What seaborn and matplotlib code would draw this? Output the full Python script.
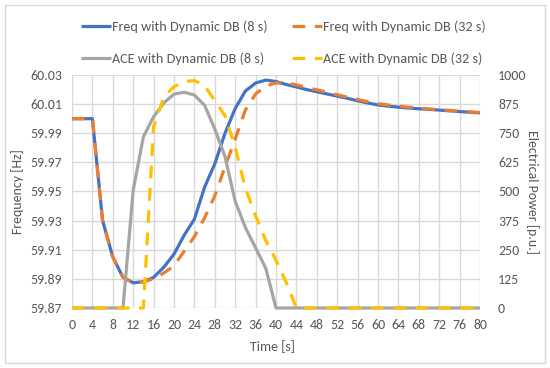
import matplotlib
matplotlib.use("Agg")
import matplotlib.pyplot as plt
import seaborn as sns
import numpy as np
import pandas as pd
from matplotlib import font_manager
from matplotlib.patches import Rectangle

# ---------------- data ----------------
time_s = list(range(0, 82, 2))

freq_8s = [60.000, 60.000, 60.000, 59.930, 59.905, 59.891, 59.8873, 59.888, 59.891, 59.898,
           59.907, 59.920, 59.931, 59.953, 59.969, 59.990, 60.007, 60.019, 60.0245, 60.0265,
           60.0255, 60.0235, 60.0218, 60.0200, 60.0185, 60.0170, 60.0155, 60.0140, 60.0123, 60.0108,
           60.0094, 60.0086, 60.0079, 60.0073, 60.0068, 60.0064, 60.0059, 60.0054, 60.0049, 60.0044,
           60.0040]

freq_32s = [60.000, 60.000, 60.000, 59.930, 59.905, 59.891, 59.8875, 59.888, 59.890, 59.894,
            59.899, 59.909, 59.919, 59.932, 59.947, 59.967, 59.986, 60.006, 60.017, 60.0225,
            60.0245, 60.0245, 60.0232, 60.0215, 60.0198, 60.0182, 60.0165, 60.0148, 60.0132, 60.0117,
            60.0103, 60.0094, 60.0086, 60.0079, 60.0073, 60.0067, 60.0062, 60.0057, 60.0052, 60.0047,
            60.0043]

ace_8s = [0, 0, 0, 0, 0, 0, 506, 735, 821, 880,
          918, 926, 914, 870, 768, 650, 458, 345, 258, 170,
          0, 0, 0, 0, 0, 0, 0, 0, 0, 0,
          0, 0, 0, 0, 0, 0, 0, 0, 0, 0,
          0]

ace_32s = [0, 0, 0, 0, 0, 0, 0, 0, 778, 905,
           950, 972, 976, 955, 890, 825, 690, 515, 395, 290,
           205, 110, 0, 0, 0, 0, 0, 0, 0, 0,
           0, 0, 0, 0, 0, 0, 0, 0, 0, 0,
           0]

labels = ["Freq with Dynamic DB (8 s)", "Freq with Dynamic DB (32 s)",
          "ACE with Dynamic DB (8 s)", "ACE with Dynamic DB (32 s)"]
freq_ticks = [59.87, 59.89, 59.91, 59.93, 59.95, 59.97, 59.99, 60.01, 60.03]
power_ticks = [0, 125, 250, 375, 500, 625, 750, 875, 1000]
time_ticks = list(range(0, 84, 4))

# ---------------- style ----------------
sns.set_theme(style="white")
avail = {f.name for f in font_manager.fontManager.ttflist}
family = "DejaVu Sans"
for cand in ["Carlito", "Liberation Sans Narrow", "Lato"]:
    if cand in avail:
        family = cand
        break
plt.rcParams["font.family"] = [family, "DejaVu Sans"]

txt = "#595959"
grid_c = "#D9D9D9"
c_blue, c_orange, c_gray, c_yellow = "#4472C4", "#ED7D31", "#A5A5A5", "#FFC000"
lw = 2.3
dash = (4, 3)
fs_leg, fs_tick, fs_lab = 10.2, 10, 10

fig = plt.figure(figsize=(5.5, 3.68), dpi=100)
ax = fig.add_axes([72 / 550, 1 - 308 / 368, (480 - 72) / 550, (308 - 75) / 368])
ax2 = ax.twinx()

df = pd.DataFrame({"t": time_s, "f8": freq_8s, "f32": freq_32s, "a8": ace_8s, "a32": ace_32s})

sns.lineplot(data=df, x="t", y="f8", ax=ax, color=c_blue, lw=lw, label=labels[0], legend=False)
sns.lineplot(data=df, x="t", y="f32", ax=ax, color=c_orange, lw=lw, label=labels[1], legend=False)
sns.lineplot(data=df, x="t", y="a8", ax=ax2, color=c_gray, lw=lw, label=labels[2], legend=False)
sns.lineplot(data=df, x="t", y="a32", ax=ax2, color=c_yellow, lw=lw, label=labels[3], legend=False)
ax.lines[1].set_dashes(dash)
ax2.lines[1].set_dashes(dash)
for l in ax.lines + ax2.lines:
    l.set_solid_capstyle("butt")
    l.set_dash_capstyle("butt")
    l.set_clip_on(False)

ax.set_xlim(0, 80)
ax.set_ylim(59.87, 60.03)
ax2.set_ylim(0, 1000)
ax.set_xticks(time_ticks)
ax.set_yticks(freq_ticks)
ax.set_yticklabels([f"{v:.2f}" for v in freq_ticks])
ax2.set_yticks(power_ticks)
ax2.set_yticklabels([str(v) for v in power_ticks])

ax.grid(True, color=grid_c, lw=1)
ax.set_axisbelow(True)
ax2.grid(False)
for a in (ax, ax2):
    for s in a.spines.values():
        s.set_visible(False)
    a.tick_params(length=0, labelsize=fs_tick, colors=txt)
ax.tick_params(axis="y", pad=7)
ax.tick_params(axis="x", pad=8)
ax2.tick_params(axis="y", pad=13)

ax.set_xlabel("Time [s]", fontsize=fs_lab, color=txt, va="center", ha="center")
ax.xaxis.set_label_coords((272 - 72) / 408, (308 - 347) / 233)
ax.set_ylabel("Frequency [Hz]", fontsize=fs_lab, color=txt, va="center", ha="center")
ax.yaxis.set_label_coords((18 - 72) / 408, 0.5)
ax2.set_ylabel("Electrical Power [p.u.]", fontsize=fs_lab, color=txt, rotation=-90,
               va="center", ha="center")
ax2.yaxis.set_label_coords((532 - 72) / 408, 0.5)

# legend: two rows x two columns, Excel-like placement
entries = [(ax.lines[0], labels[0], 81, 27), (ax.lines[1], labels[1], 292, 27),
           (ax2.lines[0], labels[2], 81, 59), (ax2.lines[1], labels[3], 292, 59)]
for h, lab, px, py in entries:
    lg = fig.legend([h], [lab], loc="center left", bbox_to_anchor=(px / 550, 1 - py / 368),
                    frameon=False, fontsize=fs_leg, labelcolor=txt,
                    handlelength=30 / (fs_leg * 100 / 72), handletextpad=0.1,
                    borderpad=0, borderaxespad=0)

fig.patches.append(Rectangle((5 / 550, 5 / 368), 540 / 550, 358 / 368, transform=fig.transFigure,
                             fill=False, edgecolor="#D9D9D9", lw=1))

fig.savefig("out.png", dpi=100)
